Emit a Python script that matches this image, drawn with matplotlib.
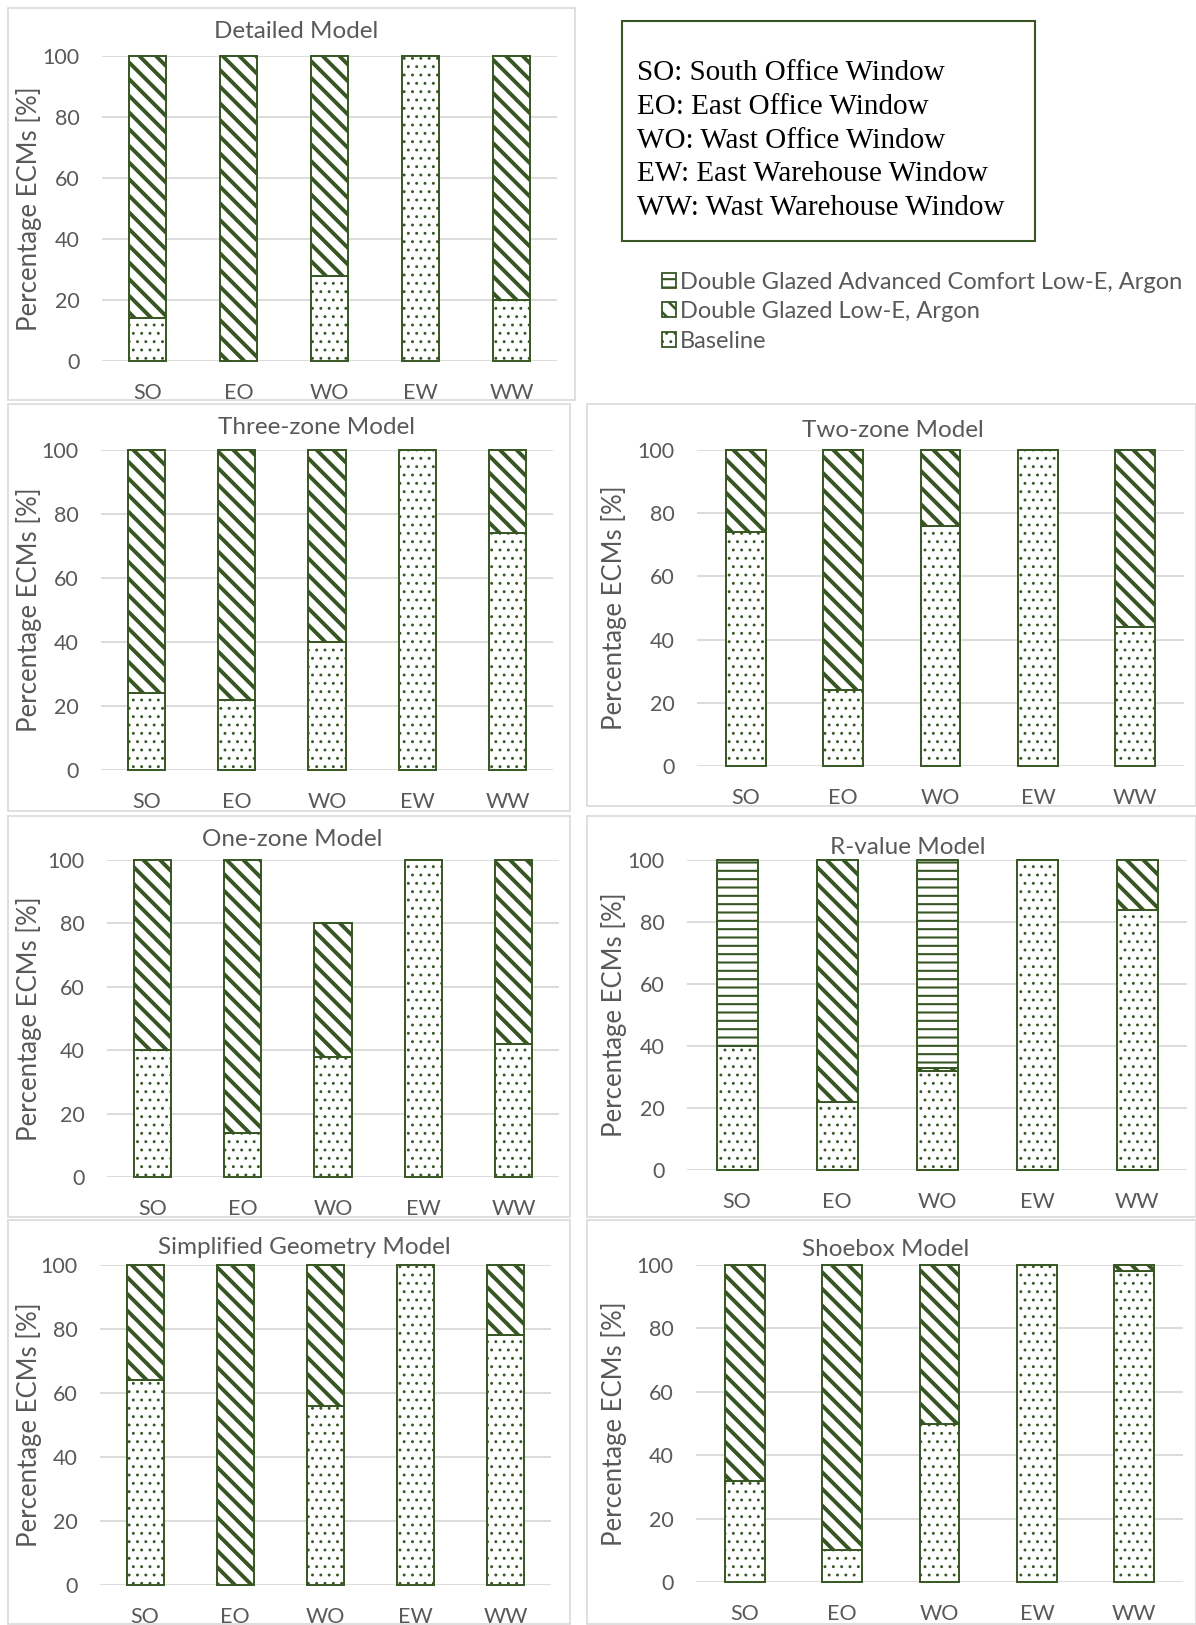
import matplotlib
matplotlib.use("Agg")
import matplotlib.pyplot as plt
from matplotlib.patches import Rectangle, Patch

GREEN = "#375623"
GRID = "#D9D9D9"
TEXT = "#595959"

plt.rcParams["font.family"] = ["Lato", "DejaVu Sans"]
plt.rcParams["hatch.color"] = GREEN

categories = ["SO", "EO", "WO", "EW", "WW"]
series_names = ["Baseline", "Double Glazed Low-E, Argon",
                "Double Glazed Advanced Comfort Low-E, Argon"]

detailed_base = [14, 0, 28, 100, 20]
detailed_lowe = [86, 100, 72, 0, 80]
detailed_adv = [0, 0, 0, 0, 0]

three_base = [24, 22, 40, 100, 74]
three_lowe = [76, 78, 60, 0, 26]
three_adv = [0, 0, 0, 0, 0]

two_base = [74, 24, 76, 100, 44]
two_lowe = [26, 76, 24, 0, 56]
two_adv = [0, 0, 0, 0, 0]

one_base = [40, 14, 38, 100, 42]
one_lowe = [60, 86, 42, 0, 58]
one_adv = [0, 0, 0, 0, 0]

rvalue_base = [40, 22, 32, 100, 84]
rvalue_lowe = [0, 78, 1, 0, 16]
rvalue_adv = [60, 0, 67, 0, 0]

simple_base = [64, 0, 56, 100, 78]
simple_lowe = [36, 100, 44, 0, 22]
simple_adv = [0, 0, 0, 0, 0]

shoebox_base = [32, 10, 50, 100, 98]
shoebox_lowe = [68, 90, 50, 0, 2]
shoebox_adv = [0, 0, 0, 0, 0]

yticks = [0, 20, 40, 60, 80, 100]

W, H = 1196, 1625
fig = plt.figure(figsize=(W / 100, H / 100), dpi=100)


def fig_rect(left, right, top, bottom):
    return [left / W, 1 - bottom / H, (right - left) / W, (bottom - top) / H]


HATCHES = ["..", "\\\\", "--"]
HATCH_LW = [0.9, 2.8, 1.5]


def with_hatch_lw(patch, lw):
    """Draw a patch with its own hatch line width."""
    if hasattr(patch, "set_hatch_linewidth"):
        patch.set_hatch_linewidth(lw)
    orig_draw = patch.draw

    def draw(renderer, _orig=orig_draw, _lw=lw):
        with plt.rc_context({"hatch.linewidth": _lw}):
            _orig(renderer)

    patch.draw = draw


# title, values, axes box (l, r, t, b), frame box (l, r, t, b), title (x, y), ylabel x
panels = [
    ("Detailed Model", (detailed_base, detailed_lowe, detailed_adv),
     (102, 557, 56, 361), (8, 575, 8, 400), (296, 32), 29),
    ("Three-zone Model", (three_base, three_lowe, three_adv),
     (101, 553, 450, 770), (8, 570, 404, 811), (317, 428), 29),
    ("Two-zone Model", (two_base, two_lowe, two_adv),
     (697, 1184, 450, 766), (587, 1196, 404, 806), (893, 430), 614),
    ("One-zone Model", (one_base, one_lowe, one_adv),
     (107, 559, 860, 1177), (8, 570, 816, 1217), (292, 840), 29),
    ("R-value Model", (rvalue_base, rvalue_lowe, rvalue_adv),
     (687, 1187, 860, 1170), (587, 1196, 816, 1217), (908, 847), 614),
    ("Simplified Geometry Model", (simple_base, simple_lowe, simple_adv),
     (100, 551, 1265, 1585), (8, 570, 1220, 1624), (304, 1248), 29),
    ("Shoebox Model", (shoebox_base, shoebox_lowe, shoebox_adv),
     (696, 1183, 1265, 1582), (587, 1196, 1220, 1624), (886, 1250), 614),
]

for title, values, box, frame, (tx, ty), ylab_x in panels:
    fl, fr, ft, fb = frame
    fig.patches.append(Rectangle((fl / W, 1 - fb / H), (fr - fl) / W, (fb - ft) / H,
                                 transform=fig.transFigure, fill=False,
                                 edgecolor=GRID, linewidth=1.2, zorder=0))
    ax = fig.add_axes(fig_rect(*box))
    x = list(range(len(categories)))
    bottom = [0] * len(categories)
    for vals, hatch, hlw in zip(values, HATCHES, HATCH_LW):
        with plt.rc_context({"hatch.linewidth": hlw}):
            bars = ax.bar(x, vals, width=0.41, bottom=bottom, color="white",
                          edgecolor=GREEN, linewidth=1.4, hatch=hatch, zorder=3)
        for b, v in zip(bars, vals):
            b.set_clip_on(False)
            with_hatch_lw(b, hlw)
            if v == 0:
                b.set_visible(False)
        bottom = [bt + v for bt, v in zip(bottom, vals)]
    ax.set_xlim(-0.5, len(categories) - 0.5)
    ax.set_ylim(0, 100)
    ax.set_yticks(yticks)
    ax.set_xticks(x)
    ax.set_xticklabels(categories)
    ax.tick_params(length=0, labelsize=15.5, colors=TEXT)
    ax.tick_params(axis="x", pad=16)
    ax.tick_params(axis="y", pad=16)
    ax.grid(axis="y", color=GRID, linewidth=1.3, zorder=0)
    ax.set_axisbelow(True)
    for s in ax.spines.values():
        s.set_visible(False)
    fig.text(tx / W, 1 - ty / H, title,
             ha="center", va="center", fontsize=17.5, color=TEXT)
    fig.text(ylab_x / W, 1 - ((box[2] + box[3]) / 2) / H, "Percentage ECMs [%]",
             rotation=90, ha="center", va="center", fontsize=18.5, color=TEXT)

# abbreviation key
fig.patches.append(Rectangle((622 / W, 1 - 241 / H), (1035 - 622) / W, (241 - 21) / H,
                             transform=fig.transFigure, fill=False,
                             edgecolor=GREEN, linewidth=1.5, zorder=1))
key_lines = ["SO: South Office Window", "EO: East Office Window",
             "WO: Wast Office Window", "EW: East Warehouse Window",
             "WW: Wast Warehouse Window"]
for i, line in enumerate(key_lines):
    fig.text(637 / W, 1 - (73 + i * 33.8) / H, line, ha="left", va="center",
             fontsize=21, color="black", family=["Liberation Serif", "DejaVu Serif"])

# series legend
handles = []
for name, hatch, hlw in reversed(list(zip(series_names, HATCHES, HATCH_LW))):
    lw = min(hlw, 1.8)
    with plt.rc_context({"hatch.linewidth": lw}):
        p = Patch(facecolor="white", edgecolor=GREEN, hatch=hatch, linewidth=1.3)
    handles.append((p, name, lw))
leg = fig.legend([h for h, _, _ in handles], [n for _, n, _ in handles],
                 loc="upper left", bbox_to_anchor=(662 / W, 1 - 272 / H),
                 frameon=False, fontsize=17, handlelength=0.6, handleheight=0.6,
                 handletextpad=0.15, labelspacing=0.35, borderpad=0, borderaxespad=0)
for t in leg.get_texts():
    t.set_color(TEXT)
for lp, (_, _, lw) in zip(leg.get_patches(), handles):
    with_hatch_lw(lp, lw)

fig.savefig("out.png", dpi=100, facecolor="white")
